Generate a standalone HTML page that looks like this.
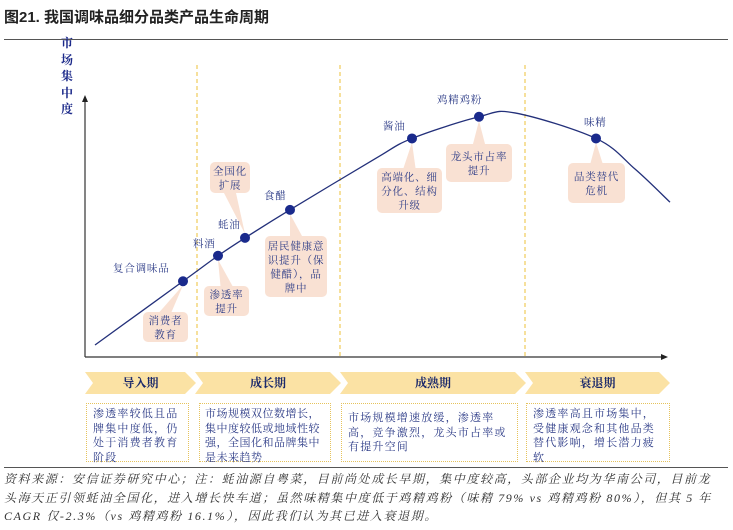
<!DOCTYPE html>
<html><head><meta charset="utf-8"><style>
body{margin:0;width:733px;height:530px;background:#fff;overflow:hidden;font-family:"Liberation Serif","Noto Serif CJK SC",serif;}
.box{position:absolute;border:1.5px dotted #e6c35c;box-sizing:border-box;padding:3px 6px;color:#2b3a86;font-size:11px;line-height:14.5px;letter-spacing:1.2px;}
.ban{position:absolute;top:372px;height:22px;background:#fbe2a4;clip-path:polygon(0 0,calc(100% - 11px) 0,100% 50%,calc(100% - 11px) 100%,0 100%,8px 50%);color:#1c2a6b;font-weight:bold;font-size:12px;line-height:22px;text-align:center;}
</style></head><body>
<div style="position:absolute;left:4px;top:6px;font-size:15px;font-weight:bold;color:#222;font-family:'Liberation Sans','Noto Sans CJK SC',sans-serif;">图21. 我国调味品细分品类产品生命周期</div>
<div style="position:absolute;left:4px;top:39px;width:724px;height:1px;background:#555;"></div>
<div style="position:absolute;left:61px;top:35px;width:14px;font-size:12px;line-height:16.5px;font-weight:bold;color:#1c2a8a;">市场集中度</div>
<svg id="c" width="733" height="530" style="position:absolute;left:0;top:0"></svg>
<div class="ban" style="left:85px;width:111px">导入期</div>
<div class="ban" style="left:195px;width:146px">成长期</div>
<div class="ban" style="left:340px;width:186px">成熟期</div>
<div class="ban" style="left:525px;width:145px">衰退期</div>
<div class="box" style="left:86px;top:403px;width:103px;height:59px">渗透率较低且品牌集中度低，仍处于消费者教育阶段</div>
<div class="box" style="left:199px;top:403px;width:132px;height:59px;padding:3px 3px 3px 5px;letter-spacing:0.5px">市场规模双位数增长，集中度较低或地域性较强，全国化和品牌集中是未来趋势</div>
<div class="box" style="left:341px;top:403px;width:177px;height:59px;padding-top:7px">市场规模增速放缓，渗透率高，竞争激烈，龙头市占率或有提升空间</div>
<div class="box" style="left:526px;top:403px;width:144px;height:59px">渗透率高且市场集中，受健康观念和其他品类替代影响，增长潜力疲软</div>
<div style="position:absolute;left:4px;top:467px;width:724px;height:1px;background:#555;"></div>
<div style="position:absolute;left:4px;top:470px;width:729px;font-size:12px;line-height:18.5px;font-style:italic;color:#333;letter-spacing:1.6px;white-space:nowrap;">资料来源：安信证券研究中心；注：蚝油源自粤菜，目前尚处成长早期，集中度较高，头部企业均为华南公司，目前龙<br>头海天正引领蚝油全国化，进入增长快车道；虽然味精集中度低于鸡精鸡粉（味精 79% vs 鸡精鸡粉 80%），但其 5 年<br>CAGR 仅-2.3%（vs 鸡精鸡粉 16.1%），因此我们认为其已进入衰退期。</div>
<script>
const products=["复合调味品","料酒","蚝油","食醋","酱油","鸡精鸡粉","味精"];
const stageX=[0.98,1.33,1.6,2.05,3.27,3.94,5.11];
const level=[2.5,3.5,4.2,5.3,8.1,8.95,8.1];
const curveX=[0.1,0.98,1.33,1.6,2.05,2.9,3.27,3.94,4.3,5.11,5.5,5.85];
const curveY=[0.0,2.5,3.5,4.2,5.3,7.3,8.1,8.95,9.1,8.1,6.9,5.6];
const stageBounds=[1.12,2.55,4.4];
const sx=v=>85+v*100, sy=v=>345-v*25.5;
const svg=document.getElementById('c'),NS='http://www.w3.org/2000/svg';
function mk(t,a){const e=document.createElementNS(NS,t);for(const k in a)e.setAttribute(k,a[k]);svg.appendChild(e);return e;}
stageBounds.forEach(b=>{const l=mk('line',{x1:sx(b),x2:sx(b),y1:65,y2:357,stroke:'#f0cc5a','stroke-width':1.2,'stroke-dasharray':'4,3'});

});
let ax=mk('path',{d:'M85,357V100 M85,357H662',stroke:'#333','stroke-width':1.2,fill:'none'});


let ar=mk('path',{d:'M85,95l-3,7h6z M668,357l-7,-3v6z',fill:'#222'});


const callouts=[
 [0,143,312,45,30,["消费者","教育"]],
 [1,204,286,45,30,["渗透率","提升"]],
 [2,210,162,40,31,["全国化","扩展"]],
 [3,265,236,62,61,["居民健康意","识提升（保","健醋），品","牌中"]],
 [4,377,168,65,45,["高端化、细","分化、结构","升级"]],
 [5,446,144,66,38,["龙头市占率","提升"]],
 [6,568,163,57,40,["品类替代","危机"]]];
callouts.forEach(c=>{const px=sx(stageX[c[0]]),py=sy(level[c[0]]);
 const up=c[2]>py; const by=up?c[2]:c[2]+c[4]; const bx=c[1]+c[3]/2;
 const p=mk('path',{d:`M${px},${py+(up?4:-4)}L${bx-6},${by}L${bx+6},${by}Z`,fill:'#f9e1d3'});
 
 
 const r=mk('rect',{x:c[1],y:c[2],width:c[3],height:c[4],rx:5,fill:'#f9e1d3'});
 
 
 c[5].forEach((s,i)=>{const t=mk('text',{x:bx,y:c[2]+c[4]/2-(c[5].length-1)*7+i*14+4,'text-anchor':'middle','font-size':10.5,'letter-spacing':0.8,fill:'#2b3a86'});t.textContent=s;
 
 });});
let pts=curveX.map((x,i)=>[sx(x),sy(curveY[i])]),d='M'+pts[0];
for(let i=0;i<pts.length-1;i++){const p0=pts[i-1]||pts[i],p1=pts[i],p2=pts[i+1],p3=pts[i+2]||p2;
 d+=`C${p1[0]+(p2[0]-p0[0])/6},${p1[1]+(p2[1]-p0[1])/6} ${p2[0]-(p3[0]-p1[0])/6},${p2[1]-(p3[1]-p1[1])/6} ${p2[0]},${p2[1]}`;}
const cv=mk('path',{d:d,stroke:'#23307a','stroke-width':1.3,fill:'none'});


const lab=[[-70,-10],[-25,-9],[-27,-10],[-26,-11],[-29,-9],[-42,-14],[-12,-13]];
products.forEach((n,i)=>{const x=sx(stageX[i]),y=sy(level[i]);
 const c=mk('circle',{cx:x,cy:y,r:5,fill:'#1a2a8c'});
 
 
 const t=mk('text',{x:x+lab[i][0],y:y+lab[i][1],'font-size':10.5,'letter-spacing':0.8,fill:'#2b3a86'});t.textContent=n;
 
 });
</script>
</body></html>
